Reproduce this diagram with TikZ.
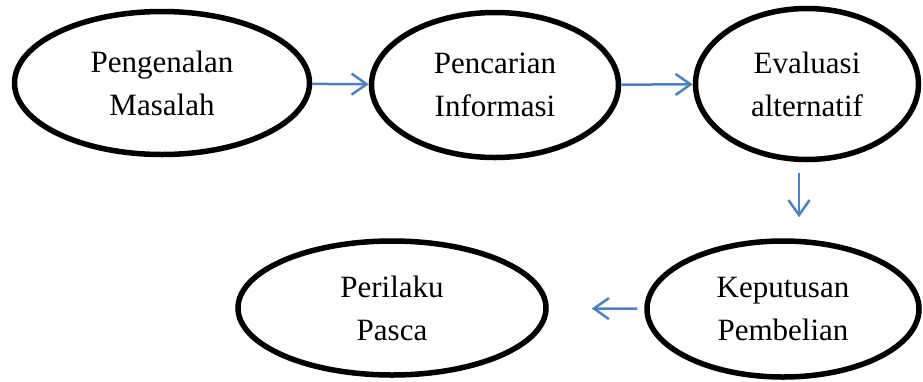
\documentclass[tikz,border=0pt]{standalone}
\usepackage{fontspec}
\setmainfont{Liberation Serif}
\usetikzlibrary{shapes.geometric, arrows.meta}

\definecolor{arrowblue}{RGB}{79,129,189}

\tikzset{
  stage/.style={ellipse, draw, line width=5.5pt, inner sep=0pt, align=center,
    font=\fontsize{31}{43}\selectfont},
  flow/.style={draw=arrowblue, line width=2.5pt,
    -{Straight Barb[length=15pt, width=21pt, line width=2.5pt]}}
}

\begin{document}
\begin{tikzpicture}[x=1pt, y=-1pt]
    \useasboundingbox (0,0) rectangle (923,381);

    % Tahap-tahap (baris atas)
    \node[stage, minimum width=295pt, minimum height=143pt] (masalah) at (162,83) {Pengenalan\\Masalah};
    \node[stage, minimum width=247pt, minimum height=145pt] (informasi) at (495,85) {Pencarian\\Informasi};
    \node[stage, minimum width=223pt, minimum height=151pt] (evaluasi) at (807,84) {Evaluasi\\alternatif};

    % Tahap-tahap (baris bawah)
    \node[stage, minimum width=272pt, minimum height=136pt] (keputusan) at (783,309) {Keputusan\\Pembelian};
    \node[stage, minimum width=308pt, minimum height=134pt] (pasca) at (392,308) {Perilaku\\Pasca};

    % Panah alur
    \draw[flow] (masalah) -- (informasi);
    \draw[flow] (informasi) -- (evaluasi);
    \draw[flow, shorten <=11pt, shorten >=21pt] ([xshift=-8pt]evaluasi.south) -- ([xshift=-8pt]evaluasi.south |- keputusan.north);
    \draw[flow, shorten <=7pt, shorten >=43pt] (keputusan) -- (pasca);
\end{tikzpicture}
\end{document}
